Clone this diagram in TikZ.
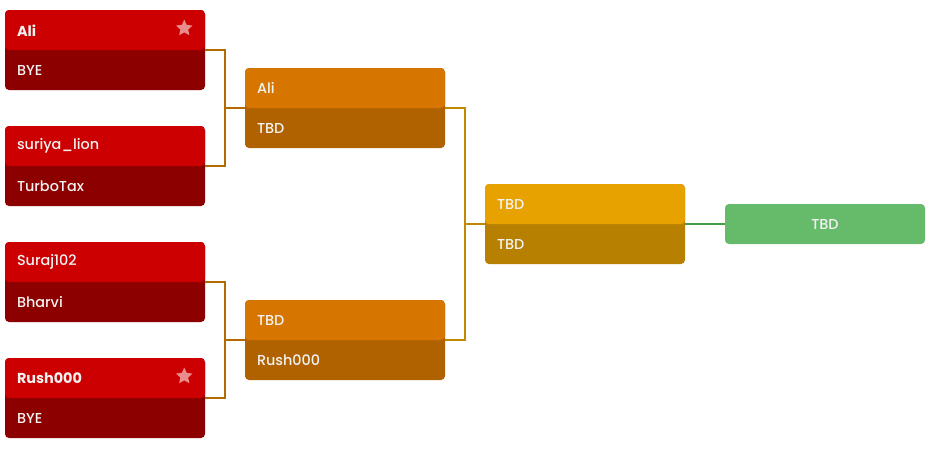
\documentclass[tikz,border=0pt]{standalone}
\usepackage{fontspec}
\setmainfont{Poppins}[UprightFont=* Medium,BoldFont=* Bold]
\usepackage{tikz}
\usetikzlibrary{arrows.meta,positioning,shapes.geometric,calc}
\definecolor{brkredtop}{HTML}{CC0000}
\definecolor{brkredbot}{HTML}{8C0000}
\definecolor{brkorgtop}{HTML}{D67600}
\definecolor{brkorgbot}{HTML}{B06200}
\definecolor{brkgldtop}{HTML}{E8A200}
\definecolor{brkgldbot}{HTML}{B88000}
\definecolor{brkgreen}{HTML}{66BB6A}
\definecolor{brkline}{HTML}{B36B00}
\definecolor{brkline2}{HTML}{BF8A00}
\definecolor{brklineg}{HTML}{43A047}
\tikzset{
  match/.style={rectangle,rounded corners=3pt,inner sep=0pt,minimum width=150pt,minimum height=60pt},
  redmatch/.style={match,fill=brkredbot,path picture={\fill[brkredtop] (path picture bounding box.north west) rectangle (path picture bounding box.east);}},
  orgmatch/.style={match,fill=brkorgbot,path picture={\fill[brkorgtop] (path picture bounding box.north west) rectangle (path picture bounding box.east);}},
  gldmatch/.style={match,fill=brkgldbot,path picture={\fill[brkgldtop] (path picture bounding box.north west) rectangle (path picture bounding box.east);}},
  finalbox/.style={match,minimum height=30pt,fill=brkgreen,text=white!95!black,font=\fontsize{10.8}{12}\selectfont},
  slot/.style={anchor=west,inner sep=0pt,text=white!95!black,font=\fontsize{10.8}{12}\selectfont},
  winner/.style={slot,font=\fontsize{10.8}{12}\selectfont\bfseries},
  seed/.style={star,star points=5,star point ratio=2.1,fill=white,fill opacity=.55,inner sep=0pt,minimum size=13pt},
  link/.style={draw=brkline,line width=0.8pt},
  link2/.style={draw=brkline2,line width=0.8pt},
  linkg/.style={draw=brklineg,line width=0.8pt},
}
\begin{document}
\begin{tikzpicture}[x=0.75pt,y=-0.75pt]
  \useasboundingbox (0,0) rectangle (940,458);
  % round 1
  \node[redmatch] (m11) at (105,50) {};
  \node[redmatch] (m12) at (105,166) {};
  \node[redmatch] (m13) at (105,282) {};
  \node[redmatch] (m14) at (105,398) {};
  \node[winner] (p11a) at ($(m11.north west)+(12,20.5)$) {Ali};
  \node[slot] (p11b) at ($(m11.north west)+(12,60.5)$) {BYE};
  \node[seed] (s11) at ($(m11.north east)+(-21,18.5)$) {};
  \node[slot] (p12a) at ($(m12.north west)+(12,20.5)$) {suriya\_lion};
  \node[slot] (p12b) at ($(m12.north west)+(12,60.5)$) {TurboTax};
  \node[slot] (p13a) at ($(m13.north west)+(12,20.5)$) {Suraj102};
  \node[slot] (p13b) at ($(m13.north west)+(12,60.5)$) {Bharvi};
  \node[winner] (p14a) at ($(m14.north west)+(12,20.5)$) {Rush000};
  \node[slot] (p14b) at ($(m14.north west)+(12,60.5)$) {BYE};
  \node[seed] (s14) at ($(m14.north east)+(-21,18.5)$) {};
  % round 2
  \node[orgmatch] (m21) at (345,108) {};
  \node[orgmatch] (m22) at (345,340) {};
  \node[slot] (p21a) at ($(m21.north west)+(12,20.5)$) {Ali};
  \node[slot] (p21b) at ($(m21.north west)+(12,60.5)$) {TBD};
  \node[slot] (p22a) at ($(m22.north west)+(12,20.5)$) {TBD};
  \node[slot] (p22b) at ($(m22.north west)+(12,60.5)$) {Rush000};
  % round 3 + final
  \node[gldmatch] (m31) at (585,224) {};
  \node[slot] (p31a) at ($(m31.north west)+(12,20.5)$) {TBD};
  \node[slot] (p31b) at ($(m31.north west)+(12,60.5)$) {TBD};
  \node[finalbox] (fin) at (825,224) {TBD};
  % connectors
  \coordinate (j1) at ($(m11.east)!.5!(m21.west)$);
  \coordinate (j2) at ($(m13.east)!.5!(m22.west)$);
  \coordinate (j3) at ($(m21.east)!.5!(m31.west)$);
  \draw[link] (m11.east) -| (j1) |- (m12.east);
  \draw[link] (j1 |- m21.west) -- (m21.west);
  \draw[link] (m13.east) -| (j2) |- (m14.east);
  \draw[link] (j2 |- m22.west) -- (m22.west);
  \draw[link2] (m21.east) -| (j3) |- (m22.east);
  \draw[link2] (j3 |- m31.west) -- (m31.west);
  \draw[linkg] (m31.east) -- (fin.west);
\end{tikzpicture}
\end{document}
